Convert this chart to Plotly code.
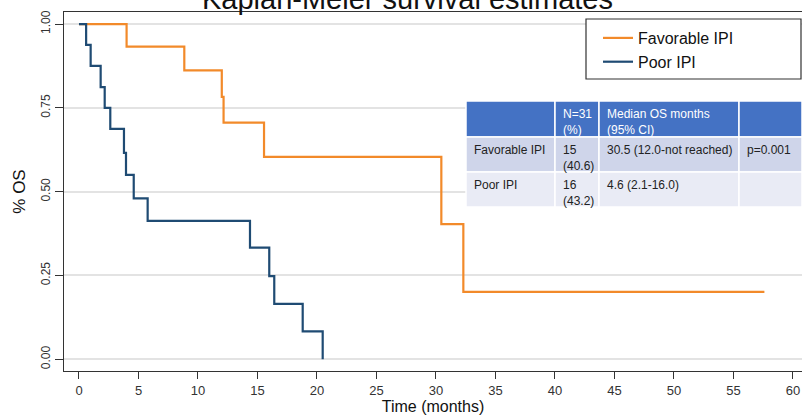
import plotly.graph_objects as go

# ---- data ----
fav_time = [0, 4.0, 8.85, 12.0, 12.15, 15.55, 30.45, 32.3, 57.6]
fav_surv = [1.0, 0.933, 0.862, 0.783, 0.706, 0.604, 0.403, 0.201, 0.201]

poor_time = [0, 0.6, 0.98, 1.82, 2.16, 2.63, 3.78, 3.95, 4.6, 5.77, 14.37, 15.99, 16.41, 18.8, 20.48]
poor_surv = [1.0, 0.938, 0.875, 0.812, 0.75, 0.6875, 0.616, 0.55, 0.48, 0.413, 0.333, 0.248, 0.165, 0.083, 0.0]

series_names = ["Favorable IPI", "Poor IPI"]

y_ticks = [0, 0.25, 0.5, 0.75, 1.0]
y_ticktext = ["0.00", "0.25", "0.50", "0.75", "1.00"]
x_ticks = list(range(0, 61, 5))

table_header = ["", "N=31<br>(%)", "Median OS months<br>(95% CI)", ""]
table_rows = [
    ["Favorable IPI", "15<br>(40.6)", "30.5 (12.0-not reached)", "p=0.001"],
    ["Poor IPI", "16<br>(43.2)", "4.6 (2.1-16.0)", ""],
]

ORANGE = "#F28A2A"
BLUE = "#1F4B73"
FONT = "Liberation Sans, Arial, sans-serif"

W, H = 802, 416
ML, MR, MT, MB = 64, 0, 12, 45
pw, ph = W - ML - MR, H - MT - MB


def px_x(px):
    return (px - ML) / pw


def px_y(py):
    return (H - MB - py) / ph


fig = go.Figure()
fig.add_trace(go.Scatter(x=fav_time, y=fav_surv, mode="lines", line_shape="hv",
                         line=dict(color=ORANGE, width=2.2), name=series_names[0]))
fig.add_trace(go.Scatter(x=poor_time, y=poor_surv, mode="lines", line_shape="hv",
                         line=dict(color=BLUE, width=2.2), name=series_names[1]))

# ---- table built from shapes + annotations ----
col_edges = [466, 555, 599, 739, 802]
row_edges = [101, 137, 172, 207]
row_fills = ["#4472C4", "#CFD5EA", "#E9EBF5"]
row_font = ["white", "#222222", "#222222"]
all_rows = [table_header] + table_rows

shapes = []
annotations = []
for r, row in enumerate(all_rows):
    for c, txt in enumerate(row):
        shapes.append(dict(type="rect", xref="paper", yref="paper",
                           x0=px_x(col_edges[c]), x1=px_x(col_edges[c + 1]),
                           y0=px_y(row_edges[r + 1]), y1=px_y(row_edges[r]),
                           line=dict(color="white", width=1.5),
                           fillcolor=row_fills[r], layer="above"))
        if txt:
            annotations.append(dict(text=txt, xref="paper", yref="paper",
                                    x=px_x(col_edges[c] + 6), y=px_y(row_edges[r] + 4),
                                    xanchor="left", yanchor="top", align="left",
                                    showarrow=False,
                                    font=dict(family=FONT, size=12, color=row_font[r])))

# legend frame
shapes.append(dict(type="rect", xref="paper", yref="paper",
                   x0=px_x(586), x1=px_x(801), y0=px_y(79), y1=px_y(19),
                   line=dict(color="#333333", width=1.2), fillcolor="white", layer="above"))

annotations.append(dict(text="Kaplan-Meier survival estimates", xref="paper", yref="paper",
                        x=px_x(407), y=px_y(-1), xanchor="center", yanchor="middle",
                        showarrow=False, font=dict(family=FONT, size=29, color="#111111")))

fig.update_layout(
    width=W, height=H,
    margin=dict(l=ML, r=MR, t=MT, b=MB),
    paper_bgcolor="white", plot_bgcolor="white",
    font=dict(family=FONT, color="#222222"),
    showlegend=True,
    legend=dict(x=px_x(598), y=px_y(21), xanchor="left", yanchor="top",
                bgcolor="rgba(0,0,0,0)", borderwidth=0,
                font=dict(family=FONT, size=16, color="#111111")),
    xaxis=dict(range=[-1.26, 60.76], tickvals=x_ticks, showgrid=False, zeroline=False,
               showline=True, linecolor="#333333", linewidth=1.3, mirror=True,
               ticks="outside", ticklen=7, tickcolor="#333333",
               tickfont=dict(size=13, color="#333333"),
               title=dict(text="Time (months)", font=dict(size=16, color="#111111"), standoff=4)),
    yaxis=dict(range=[-0.035, 1.036], tickvals=y_ticks, ticktext=y_ticktext, tickangle=-90,
               showgrid=True, gridcolor="#E3E3E3", gridwidth=1.5, zeroline=False,
               showline=True, linecolor="#333333", linewidth=1.3,
               ticks="outside", ticklen=8, tickcolor="#333333",
               tickfont=dict(size=12, color="#333333"),
               title=dict(text="% OS", font=dict(size=17, color="#111111"), standoff=9)),
    shapes=shapes,
    annotations=annotations,
)

fig.write_html("out.html", config={"displayModeBar": False},
               post_script="document.body.style.margin='0';")
